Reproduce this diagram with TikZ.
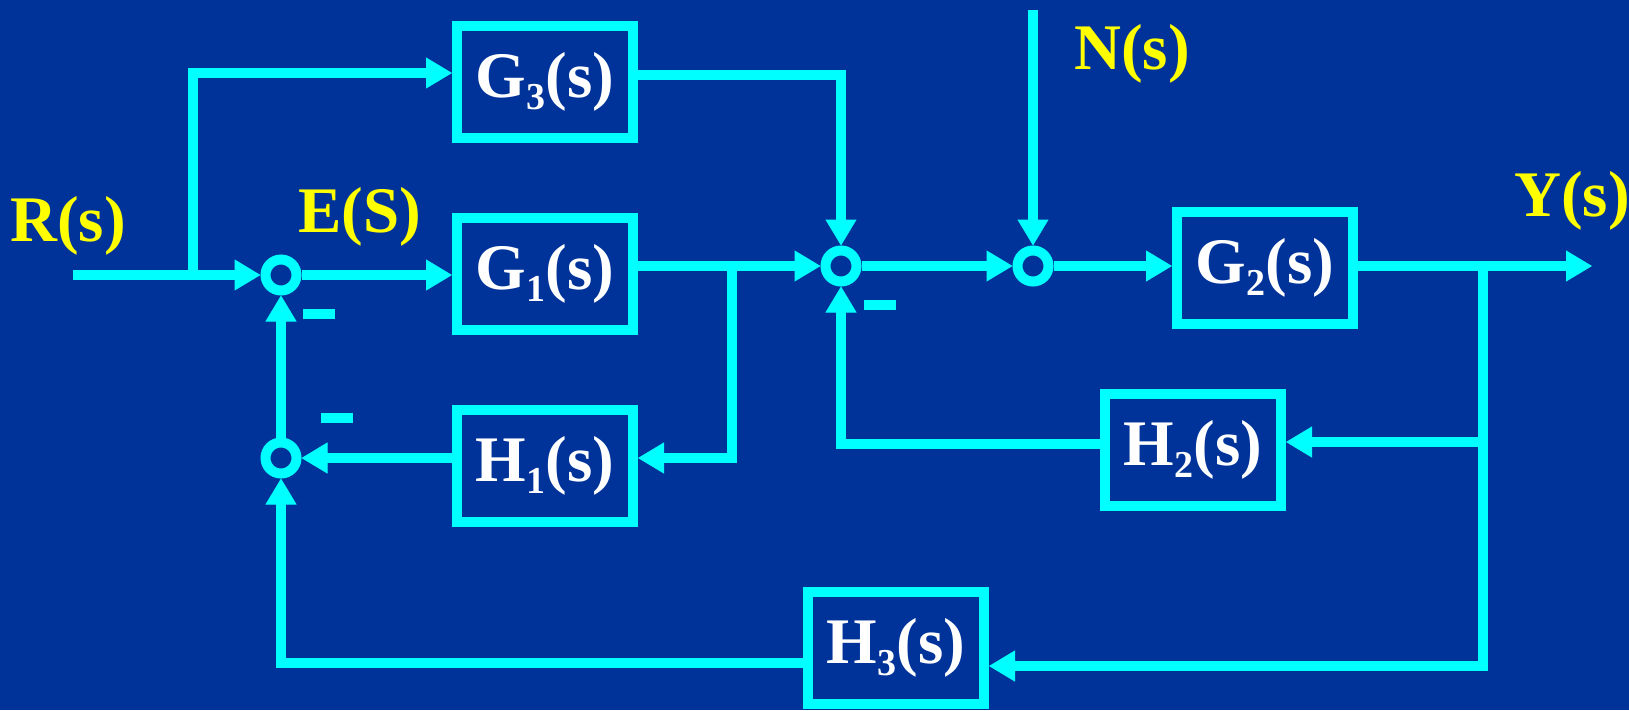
\documentclass[tikz,border=0pt]{standalone}
\usepackage{fontspec}
\setmainfont{Liberation Serif}
\usetikzlibrary{arrows.meta}
\definecolor{bgblue}{RGB}{0,51,153}
\definecolor{lnc}{RGB}{0,255,255}
\definecolor{lbl}{RGB}{255,255,0}
\newcommand\lowsub[1]{\raisebox{-12pt}{\fontsize{38}{38}\selectfont #1}}
\begin{document}
\begin{tikzpicture}[x=1pt,y=-1pt,
  sig/.style={draw=lnc,line width=10pt,-{Triangle[length=26pt,width=31pt,line width=1pt]}},
  blk/.style={draw=lnc,line width=10pt,minimum width=176pt,minimum height=112pt,inner sep=0pt,text=white,font=\fontsize{65}{70}\selectfont\bfseries},
  sumj/.style={circle,draw=lnc,line width=10pt,minimum size=31pt,inner sep=0pt},
  lab/.style={text=lbl,font=\fontsize{65}{70}\selectfont\bfseries,inner sep=0pt},
  neg/.style={fill=lnc,minimum width=32pt,minimum height=10pt,inner sep=0pt}]
\fill[bgblue] (0,0) rectangle (1629,710);
\useasboundingbox (0,0) rectangle (1629,710);

\node[blk] (G3) at (545,82) {G\lowsub{3}(s)};
\node[blk] (G1) at (545,274) {G\lowsub{1}(s)};
\node[blk] (H1) at (545,466) {H\lowsub{1}(s)};
\node[blk] (G2) at (1265,268) {G\lowsub{2}(s)};
\node[blk] (H2) at (1193,450) {H\lowsub{2}(s)};
\node[blk] (H3) at (896,648) {H\lowsub{3}(s)};
\node[sumj] (S1) at (281,275) {};
\node[sumj] (S2) at (281,458) {};
\node[sumj] (S3) at (841,266) {};
\node[sumj] (S4) at (1033,266) {};
\node[lab] (R) at (68,226) {R(s)};
\node[lab] (E) at (360,217) {E(S)};
\node[lab] (N) at (1132,54) {N(s)};
\node[lab] (Y) at (1572,201) {Y(s)};
\node[neg] (m1) at (319,314) {};
\node[neg] (m2) at (337,418) {};
\node[neg] (m3) at (880,305) {};

\coordinate (in) at (73,275);
\coordinate (b0) at (193,275);
\coordinate (b0t) at (193,73);
\coordinate (g3c) at (841,75);
\coordinate (b1) at (732,266);
\coordinate (b1b) at (732,458);
\coordinate (ntop) at (1033,10);
\coordinate (out) at (1592,266);
\coordinate (b2) at (1483,266);
\coordinate (b2h) at (1483,442);
\coordinate (b2b) at (1483,666);
\coordinate (h2o) at (841,444);
\coordinate (h3o) at (281,663);

\draw[sig] (in) -- (S1);
\draw[sig] (b0) -- (b0t) -- (G3.west |- b0t);
\draw[sig] (S1) -- (G1.west |- S1);
\draw[sig] (G3.east |- g3c) -- (g3c) -- (S3);
\draw[sig] (G1.east |- S3) -- (S3);
\draw[sig] (b1) -- (b1b) -- (H1.east |- b1b);
\draw[sig] (H1.west |- S2) -- (S2);
\draw[sig] (S2) -- (S1);
\draw[sig] (H3.west |- h3o) -- (h3o) -- (S2);
\draw[sig] (S3) -- (S4);
\draw[sig] (ntop) -- (S4);
\draw[sig] (S4) -- (G2.west |- S4);
\draw[sig] (G2.east |- S4) -- (out);
\draw[sig] (b2) -- (b2b) -- (H3.east |- b2b);
\draw[sig] (b2h) -- (H2.east |- b2h);
\draw[sig] (H2.west |- h2o) -- (h2o) -- (S3);
\end{tikzpicture}
\end{document}
